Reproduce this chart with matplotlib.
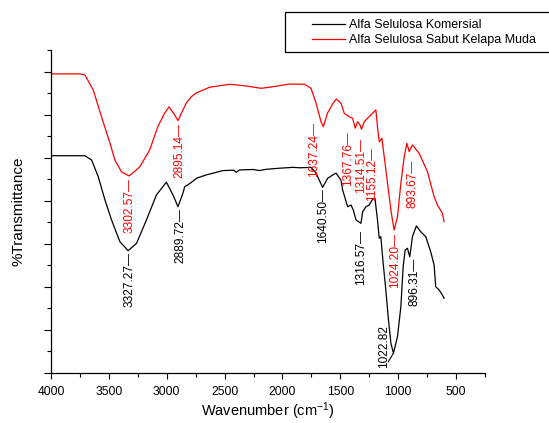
import numpy as np
import matplotlib
matplotlib.use("Agg")
import matplotlib.pyplot as plt
from matplotlib.ticker import MultipleLocator, NullFormatter
from matplotlib.patches import Rectangle

plt.rcParams['font.family'] = ['Liberation Sans', 'DejaVu Sans']
plt.rcParams['mathtext.fontset'] = 'custom'
plt.rcParams['mathtext.rm'] = 'Liberation Sans'
plt.rcParams['mathtext.default'] = 'regular'

# spectra (wavenumber, relative %T)
wn_komersial = [4000, 3707, 3649, 3592, 3534, 3477, 3405, 3334, 3261, 3175, 3089, 3003,
                2946, 2903, 2860, 2845, 2800, 2740, 2658, 2515, 2420, 2400, 2371, 2250,
                2200, 2141, 2026, 1911, 1850, 1753, 1710, 1653, 1610, 1552, 1537, 1495,
                1480, 1437, 1408, 1388, 1365, 1322, 1307, 1279, 1250, 1221, 1201, 1179,
                1164, 1150, 1130, 1107, 1084, 1063, 1041, 1006, 977, 957, 940, 920, 900,
                877, 843, 805, 762, 719, 690, 676, 647, 618, 604]
t_komersial = [10.09, 10.09, 9.89, 9.12, 8.04, 7.11, 6.10, 5.68, 6.02, 7.11, 8.27, 8.86,
               8.27, 7.72, 8.35, 8.65, 8.80, 9.05, 9.20, 9.40, 9.42, 9.32, 9.43, 9.45,
               9.40, 9.46, 9.51, 9.55, 9.53, 9.55, 9.28, 8.62, 9.04, 9.24, 9.28, 8.96,
               8.50, 7.72, 7.80, 7.57, 7.11, 6.95, 7.49, 7.72, 7.80, 8.07, 8.11, 7.11,
               6.26, 6.33, 5.10, 3.86, 2.46, 1.38, 0.92, 1.69, 3.08, 4.94, 5.71, 5.79, 5.40,
               6.33, 6.83, 6.56, 6.33, 5.63, 5.02, 4.01, 3.86, 3.62, 3.47]

wn_sabut = [4000, 3750, 3707, 3635, 3563, 3491, 3448, 3391, 3325, 3233, 3147, 3078,
            3017, 2980, 2931, 2903, 2860, 2830, 2787, 2740, 2629, 2457, 2313, 2184,
            2041, 1940, 1810, 1753, 1710, 1667, 1647, 1610, 1560, 1535, 1494, 1466,
            1423, 1394, 1371, 1351, 1330, 1317, 1293, 1265, 1236, 1193, 1179, 1164,
            1155, 1141, 1121, 1092, 1063, 1050, 1035, 1006, 977, 948, 925, 905, 877,
            819, 747, 690, 661, 618, 604]
t_sabut = [13.89, 13.89, 13.84, 13.14, 11.89, 10.68, 9.89, 9.34, 9.15, 9.57, 10.36, 11.43,
           12.08, 12.36, 11.98, 11.72, 12.22, 12.54, 12.83, 13.02, 13.27, 13.41, 13.33, 13.22,
           13.33, 13.42, 13.41, 13.22, 12.54, 11.67, 11.44, 12.08, 12.55, 12.72, 12.53, 12.06,
           11.90, 11.83, 11.37, 11.67, 11.52, 11.32, 11.67, 11.83, 11.98, 12.22, 11.44, 10.74,
           10.80, 10.90, 10.05, 8.81, 7.57, 7.11, 6.64, 7.26, 8.81, 10.05, 10.67, 10.28, 10.59,
           10.20, 9.35, 8.19, 7.80, 7.42, 7.03]

# peak labels: text, label x (cm-1), label top (relative %T)
peaks_komersial = [("3327.27", 3319, 5.60), ("2889.72", 2885, 7.66),
                   ("1640.50", 1653, 8.59), ("1316.57", 1322, 6.64),
                   ("896.31", 862, 5.34)]
peaks_sabut = [("3302.57", 3319, 9.06), ("2895.14", 2894, 11.61),
               ("1637.24", 1724, 11.67), ("1367.76", 1437, 11.21),
               ("1314.51", 1322, 10.91), ("1155.12", 1222, 10.51),
               ("1024.20", 1029, 6.50), ("893.67", 877, 9.89)]

fig = plt.figure(figsize=(5.49, 4.23), dpi=100)
ax = fig.add_axes([51/549, 50/423, 434/549, 323/423])

l1, = ax.plot(wn_komersial, t_komersial, color='black', lw=0.9)
l2, = ax.plot(wn_sabut, t_sabut, color='#ff0000', lw=0.9)

for txt, x, y in peaks_komersial:
    ax.text(x, y, txt + '\u2014', rotation=90, ha='center', va='top',
            fontsize=8.6, color='black')
for txt, x, y in peaks_sabut:
    ax.text(x, y, txt + '\u2014', rotation=90, ha='center', va='top',
            fontsize=8.6, color='#ff0000')

# the deepest band is labelled below with a short leader
ax.text(1121, 2.23, '1022.82', rotation=90, ha='center', va='top', fontsize=8.6)
ax.plot([1041, 1086], [0.92, 0.52], color='black', lw=0.8)

ax.set_xlim(4000, 250)
ax.set_ylim(0, 15)
ax.xaxis.set_major_locator(MultipleLocator(500))
ax.xaxis.set_minor_locator(MultipleLocator(250))
ax.yaxis.set_major_locator(MultipleLocator(2))
ax.yaxis.set_minor_locator(MultipleLocator(1))
ax.yaxis.set_major_formatter(NullFormatter())
ax.set_xticks([4000, 3500, 3000, 2500, 2000, 1500, 1000, 500])
ax.tick_params(axis='both', which='major', direction='out', length=5, width=0.8, labelsize=8.7)
ax.tick_params(axis='both', which='minor', direction='out', length=2.8, width=0.8)
ax.tick_params(axis='x', which='major', length=4.5, pad=5)
for s in ['top', 'right']:
    ax.spines[s].set_visible(False)
for s in ['left', 'bottom']:
    ax.spines[s].set_linewidth(0.9)

ax.set_xlabel('Wavenumber (cm$^{-1}$)', fontsize=10.5)
ax.xaxis.label.set_va('center')
ax.set_ylabel('%Transmittance', fontsize=11)
ax.xaxis.set_label_coords(0.5, -0.118)
ax.yaxis.set_label_coords(-0.058, 0.5)

fig.patches.append(Rectangle((285/549, (423-52)/423), 300/549, 40/423,
                             transform=fig.transFigure, fill=False,
                             edgecolor='black', lw=0.9))
fig.legend([l1, l2], ['Alfa Selulosa Komersial', 'Alfa Selulosa Sabut Kelapa Muda'],
           loc='upper left', bbox_to_anchor=(312/549, (423-19)/423), frameon=False,
           fontsize=9, handlelength=2.6, handletextpad=0.35, labelspacing=0.25,
           borderpad=0, borderaxespad=0)

fig.savefig('out.png', dpi=100)
